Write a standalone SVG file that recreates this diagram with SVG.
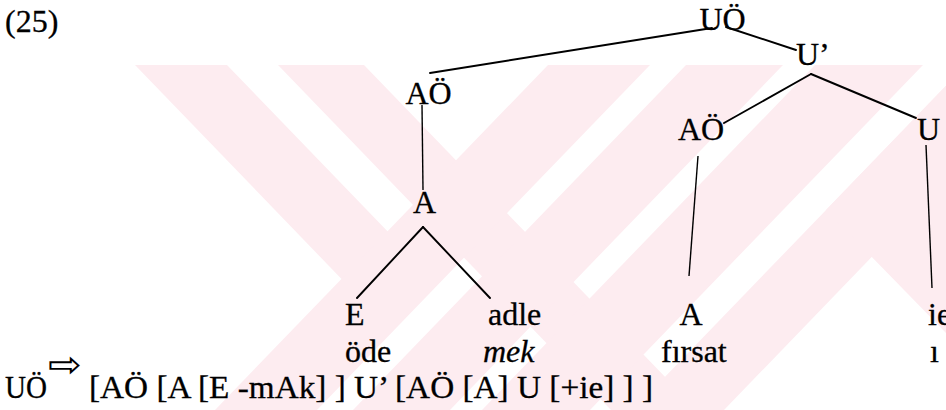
<svg xmlns="http://www.w3.org/2000/svg" width="946" height="410" viewBox="0 0 946 410">
<style>
.t{font-family:"Liberation Serif","Times New Roman",serif;font-size:32px;fill:#000;stroke:#000;stroke-width:0.3}
.i{font-style:italic}
.e{stroke:#000;stroke-width:1.9;fill:none;stroke-linecap:round}
.v{stroke:#000;stroke-width:1.4;fill:none}
.wm{fill:#fdecf0;stroke:none}
</style>
<rect x="0" y="0" width="946" height="410" fill="#fff"/>
<g id="watermark">
<polygon class="wm" points="135,65 227,65 434.5,280 342.5,280"/>
<polygon class="wm" points="278,65 364,65 697,410 611,410"/>
<polygon class="wm" points="548,65 650,65 317,410 215,410"/>
<polygon class="wm" points="686,65 783,65 450,410 353,410"/>
<polygon class="wm" points="815,65 923,65 590,410 482,410"/>
<polygon class="wm" points="966,65 1057,65 724,410 633,410"/>
<polygon class="wm" points="826,210 966,65 1100,65 1100,410 1021,410"/>
</g>
<g id="label"><text class="t" x="5" y="32">(25)</text></g>
<g id="connectors">
<line class="e" x1="430" y1="73" x2="712" y2="28"/>
<line class="e" x1="726" y1="27" x2="796" y2="50"/>
<line class="e" x1="811" y1="74" x2="724" y2="123"/>
<line class="e" x1="811" y1="74" x2="916" y2="118"/>
<line class="v" x1="422" y1="105" x2="423" y2="190"/>
<line class="e" x1="423" y1="227" x2="357" y2="298"/>
<line class="e" x1="423" y1="227" x2="490" y2="298"/>
<line class="v" x1="698" y1="156" x2="689" y2="276"/>
<line class="v" x1="926" y1="145" x2="932" y2="288"/>
</g>
<g id="n-UO"><text class="t" x="722.5" y="30" text-anchor="middle">UÖ</text></g>
<g id="n-Ubar"><text class="t" x="796" y="65">U’</text></g>
<g id="n-AO1"><text class="t" x="428.5" y="104" text-anchor="middle">AÖ</text></g>
<g id="n-AO2"><text class="t" x="701" y="140" text-anchor="middle">AÖ</text></g>
<g id="n-U"><text class="t" x="917" y="140">U</text></g>
<g id="n-A1"><text class="t" x="424.5" y="213" text-anchor="middle">A</text></g>
<g id="n-E"><text class="t" x="345" y="325">E</text><text class="t" x="345" y="362">öde</text></g>
<g id="n-adle"><text class="t" x="488" y="325">adle</text><text class="t i" x="483" y="362">mek</text></g>
<g id="n-A2"><text class="t" x="691" y="325" text-anchor="middle">A</text><text class="t" x="661" y="362">fırsat</text></g>
<g id="n-ie"><text class="t" x="928" y="325">ie</text><text class="t" x="930" y="362">ı</text></g>
<g id="formula">
<text class="t" x="5" y="398" textLength="42" lengthAdjust="spacingAndGlyphs">UÖ</text>
<text x="48" y="377" font-family="DejaVu Sans, sans-serif" font-size="36" textLength="34" lengthAdjust="spacingAndGlyphs">⇨</text>
<text class="t" x="89" y="398" textLength="564" lengthAdjust="spacingAndGlyphs">[AÖ [A [E -mAk] ] U’ [AÖ [A] U [+ie] ] ]</text>
</g>
</svg>
